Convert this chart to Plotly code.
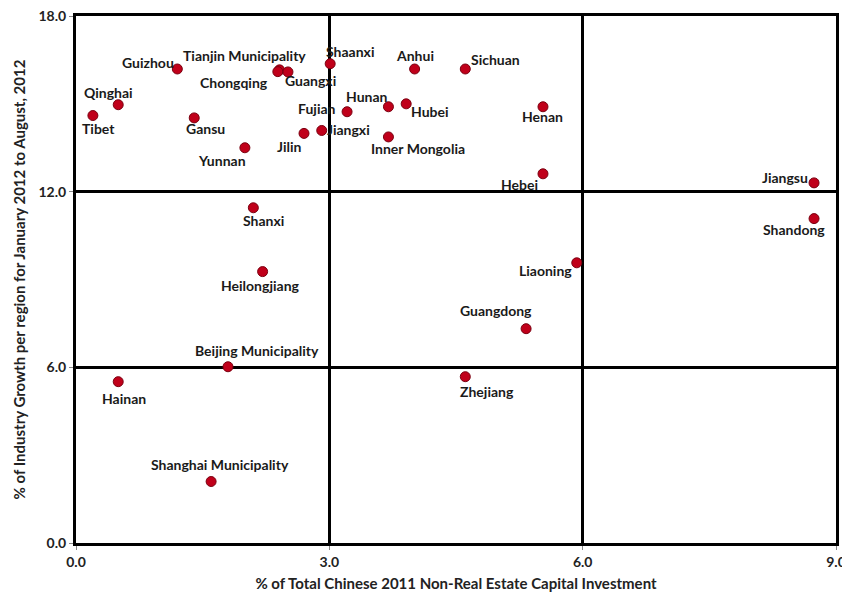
import plotly.graph_objects as go

regions = ["Tibet", "Qinghai", "Guizhou", "Gansu", "Yunnan", "Tianjin Municipality", "Chongqing",
           "Guangxi", "Shaanxi", "Jilin", "Jiangxi", "Fujian", "Hunan", "Hubei", "Inner Mongolia",
           "Anhui", "Sichuan", "Henan", "Hebei", "Jiangsu", "Shandong", "Shanxi", "Heilongjiang",
           "Liaoning", "Guangdong", "Zhejiang", "Beijing Municipality", "Hainan", "Shanghai Municipality"]
investment_share = [0.2, 0.5, 1.2, 1.4, 2.0, 2.41, 2.39, 2.51, 3.01, 2.70, 2.91, 3.21, 3.70, 3.91, 3.70,
                    4.01, 4.61, 5.53, 5.53, 8.74, 8.74, 2.10, 2.21, 5.93, 5.33, 4.61, 1.80, 0.5, 1.6]
industry_growth = [14.6, 14.97, 16.19, 14.52, 13.5, 16.16, 16.1, 16.09, 16.37, 13.99, 14.09, 14.73, 14.9,
                   15.0, 13.87, 16.19, 16.19, 14.9, 12.61, 12.3, 11.08, 11.45, 9.27, 9.57, 7.32, 5.68,
                   6.02, 5.51, 2.10]
x_ticks = [0, 3, 6, 9]
y_ticks = [0, 6, 12, 18]

# label pixel offsets (dx, dy) from each point's marker, plot pixels; dy positive = up
label_offsets = {
    "Tibet": (6, -13), "Qinghai": (-10, 12), "Guizhou": (-29, 6), "Gansu": (11, -11),
    "Yunnan": (-23, -13), "Tianjin Municipality": (-35, 14), "Chongqing": (-44, -11),
    "Guangxi": (23, -9), "Shaanxi": (20, 12), "Jilin": (-15, -13), "Jiangxi": (27, 1),
    "Fujian": (-30, 3), "Hunan": (-21, 10), "Hubei": (24, -8), "Inner Mongolia": (30, -12),
    "Anhui": (0, 13), "Sichuan": (30, 9), "Henan": (0, -10), "Hebei": (-23, -11),
    "Jiangsu": (-29, 5), "Shandong": (-20, -11), "Shanxi": (10, -13), "Heilongjiang": (-2, -14),
    "Liaoning": (-31, -8), "Guangdong": (-30, 18), "Zhejiang": (22, -15),
    "Beijing Municipality": (29, 16), "Hainan": (6, -17), "Shanghai Municipality": (9, 17),
}

font_family = "Lato, 'Open Sans', sans-serif"

fig = go.Figure()
fig.add_trace(go.Scatter(
    x=investment_share, y=industry_growth, mode="markers",
    marker=dict(size=10, color="#C0001A", line=dict(color="#7a0010", width=1)),
    hoverinfo="text", text=regions, showlegend=False, cliponaxis=False,
))

for name, xv, yv in zip(regions, investment_share, industry_growth):
    dx, dy = label_offsets[name]
    fig.add_annotation(x=xv, y=yv, text=name, showarrow=False,
                       xshift=dx, yshift=dy,
                       font=dict(size=14, color="#1a1a1a", family=font_family, weight="bold"))

axis_common = dict(
    showgrid=True, gridcolor="#000000", gridwidth=2.5, zeroline=False,
    showline=True, linecolor="#000000", linewidth=3, mirror=True,
    ticks="outside", ticklen=4, tickcolor="#888888", tickwidth=1,
    tickformat=".1f", automargin=False, ticklabeloverflow="allow",
    tickfont=dict(size=14, color="#222222", family=font_family, weight="bold"),
)

fig.update_layout(
    width=842, height=589,
    margin=dict(l=68, r=14, t=8, b=54, autoexpand=False),
    paper_bgcolor="white", plot_bgcolor="white",
    font=dict(family=font_family),
    xaxis=dict(range=[0, 9], tickvals=x_ticks, **axis_common,
               title=dict(text="% of Total Chinese 2011 Non-Real Estate Capital Investment",
                          font=dict(size=15, color="#222222", weight="bold"), standoff=10)),
    yaxis=dict(range=[0, 18], tickvals=y_ticks, **axis_common,
               title=dict(text="% of Industry Growth per region for January 2012 to August, 2012",
                          font=dict(size=15, color="#222222", weight="bold"), standoff=10)),
)

fig.write_html("out.html")
